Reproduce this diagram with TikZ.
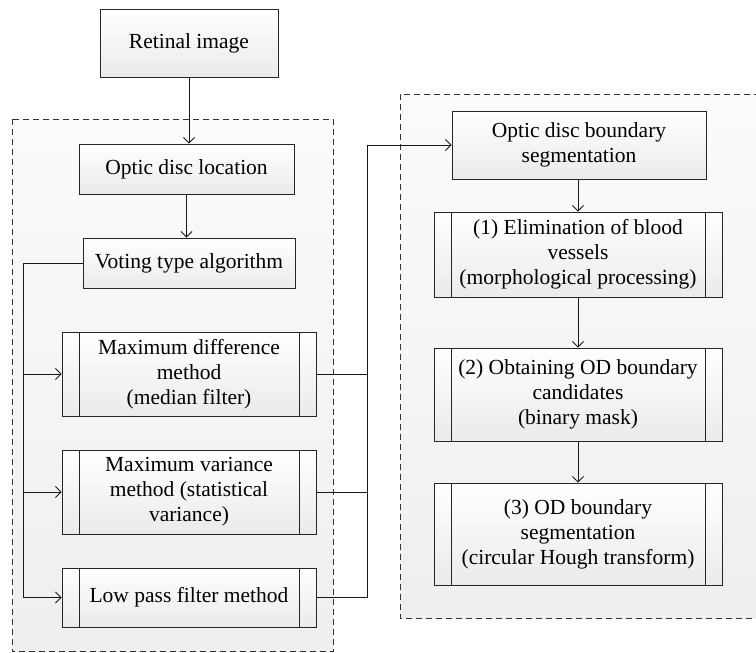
\documentclass[tikz,border=0pt]{standalone}
\usepackage{fontspec}
\setmainfont{Liberation Serif}
\usetikzlibrary{arrows.meta,positioning}
\tikzset{
  flow/.style={draw=black!85, line width=0.9pt, top color=white, bottom color=black!8, align=center, inner sep=0pt,
    font=\fontsize{21.5}{25}\selectfont},
  procbox/.style={flow, path picture={
    \draw[black!85, line width=0.9pt] ([xshift=17pt]path picture bounding box.north west) -- ([xshift=17pt]path picture bounding box.south west);
    \draw[black!85, line width=0.9pt] ([xshift=-17pt]path picture bounding box.north east) -- ([xshift=-17pt]path picture bounding box.south east);}},
  conn/.style={draw=black!90, line width=0.9pt},
  arr/.style={conn, -{Straight Barb[length=5.5pt,width=11pt,line width=0.9pt]}},
  region/.style={top color=black!1.5, bottom color=black!6.5, draw=none},
  regionline/.style={draw=black!80, line width=0.9pt, dash pattern=on 6pt off 4pt},
}
\begin{document}
\begin{tikzpicture}[x=1pt,y=-1pt]
\useasboundingbox (0,0) rectangle (756,653);
% regions
\fill[region] (12,119) rectangle (333,651.5);
\draw[regionline] (12,119) rectangle (333,651.5);
\fill[region] (400,94) rectangle (770,618);
\draw[regionline] (770,94) -- (400,94) -- (400,618) -- (770,618);
% nodes
\node[flow, minimum width=178pt, minimum height=68pt] (ret) at (189,43) {Retinal image};
\node[flow, minimum width=215pt, minimum height=50pt] (odl) at (186.5,169) {Optic disc location};
\node[flow, minimum width=212pt, minimum height=50pt] (vot) at (189,263) {Voting type algorithm};
\node[procbox, minimum width=254pt, minimum height=84pt] (mdm) at (189,374) {Maximum difference\\method\\(median filter)};
\node[procbox, minimum width=254pt, minimum height=84pt] (mvm) at (189,492) {Maximum variance\\method (statistical\\variance)};
\node[procbox, minimum width=254pt, minimum height=59pt] (lpf) at (189,597.5) {Low pass filter method};
\node[flow, minimum width=254pt, minimum height=68pt] (odbs) at (579,145) {Optic disc boundary\\segmentation};
\node[procbox, minimum width=288pt, minimum height=85pt] (s1) at (578,254.5) {(1) Elimination of blood\\vessels\\(morphological processing)};
\node[procbox, minimum width=288pt, minimum height=93pt] (s2) at (578,394.5) {(2) Obtaining OD boundary\\candidates\\(binary mask)};
\node[procbox, minimum width=288pt, minimum height=102pt] (s3) at (578,534) {(3) OD boundary\\segmentation\\(circular Hough transform)};
\coordinate (lx) at (23,0);
\coordinate (rx) at (367,0);
% connectors
\draw[arr] (ret.south) -- (ret.south |- odl.north);
\draw[arr] (odl.south) -- (odl.south |- vot.north);
\draw[conn] (vot.west) -- (vot.west -| lx) -- (lx |- lpf.west);
\draw[arr] (lx |- lpf.west) -- (lpf.west);
\draw[arr] (lx |- mdm.west) -- (mdm.west);
\draw[arr] (lx |- mvm.west) -- (mvm.west);
\draw[conn] (mdm.east) -- (mdm.east -| rx);
\draw[conn] (mvm.east) -- (mvm.east -| rx);
\draw[arr] (lpf.east) -- (lpf.east -| rx) -- (rx |- odbs.west) -- (odbs.west);
\draw[arr] (s1.north |- odbs.south) -- (s1.north);
\draw[arr] (s1.south) -- (s2.north);
\draw[arr] (s2.south) -- (s3.north);
\end{tikzpicture}
\end{document}
